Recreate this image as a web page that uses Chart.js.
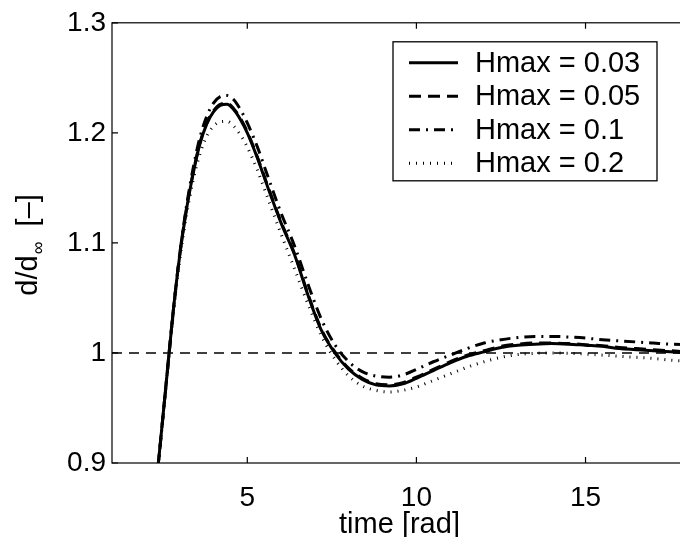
<!DOCTYPE html>
<html>
<head>
<meta charset="utf-8">
<script src="https://cdn.jsdelivr.net/npm/chart.js@4.4.1/dist/chart.umd.min.js"></script>
<style>
  html, body { margin: 0; padding: 0; background: #fff; overflow: hidden; }
  #wrap { width: 692px; height: 550px; }
</style>
</head>
<body>
<div id="wrap"><canvas id="chart" width="692" height="550"></canvas></div>
<script>
// time axis shared by all runs
const time = [2.2, 2.4, 2.6, 2.8, 3.0, 3.2, 3.4, 3.6, 3.8, 4.0, 4.2, 4.4, 4.6, 4.8, 5.0, 5.3, 5.6, 6.0, 6.4, 6.8,
  7.2, 7.6, 8.0, 8.4, 8.8, 9.2, 9.6, 10.0, 10.5, 11.0, 11.5, 12.0, 12.5, 13.0, 13.5, 14.0, 14.5, 15.0,
  15.5, 16.0, 16.5, 17.0, 17.5, 18.0];

const hmax003 = [0.846, 0.909, 0.972, 1.035, 1.088, 1.130, 1.163, 1.190, 1.208, 1.219, 1.225, 1.226, 1.221, 1.212,
  1.200, 1.177, 1.151, 1.118, 1.089, 1.052, 1.020, 0.9995, 0.985, 0.976, 0.971, 0.970, 0.972, 0.977, 0.984,
  0.991, 0.997, 1.001, 1.005, 1.007, 1.008, 1.0085, 1.008, 1.007, 1.006, 1.004, 1.003, 1.002, 1.001, 1.000];

const hmax005 = [0.846, 0.909, 0.972, 1.035, 1.089, 1.131, 1.164, 1.191, 1.209, 1.220, 1.226, 1.227, 1.222, 1.213,
  1.201, 1.178, 1.152, 1.119, 1.090, 1.053, 1.021, 1.0005, 0.986, 0.977, 0.972, 0.971, 0.973, 0.978, 0.985,
  0.992, 0.998, 1.002, 1.006, 1.008, 1.009, 1.009, 1.0085, 1.0075, 1.0065, 1.005, 1.004, 1.003, 1.002, 1.001];

const hmax01 = [0.845, 0.908, 0.971, 1.034, 1.089, 1.133, 1.168, 1.196, 1.215, 1.227, 1.233, 1.234, 1.230, 1.221,
  1.209, 1.187, 1.161, 1.127, 1.097, 1.062, 1.030, 1.007, 0.992, 0.983, 0.979, 0.978, 0.980, 0.985, 0.992,
  0.998, 1.004, 1.009, 1.012, 1.014, 1.015, 1.015, 1.0145, 1.0135, 1.012, 1.011, 1.010, 1.009, 1.008, 1.0075];

const hmax02 = [0.846, 0.909, 0.971, 1.032, 1.084, 1.125, 1.157, 1.181, 1.197, 1.206, 1.210, 1.2105, 1.206, 1.198,
  1.187, 1.166, 1.141, 1.108, 1.076, 1.044, 1.015, 0.994, 0.979, 0.970, 0.966, 0.9645, 0.966, 0.969, 0.975,
  0.981, 0.987, 0.992, 0.996, 0.9985, 0.9997, 1.000, 0.9997, 0.999, 0.998, 0.997, 0.996, 0.995, 0.9935, 0.9925];

// steady state reference
const refTime = [1, 18];
const refValue = [1, 1];

const labels = ['Hmax = 0.03', 'Hmax = 0.05', 'Hmax = 0.1', 'Hmax = 0.2'];
const xTicks = [5, 10, 15];
const yTicks = [0.9, 1.0, 1.1, 1.2, 1.3];

const FONT = "'Liberation Sans', Arial, Helvetica, sans-serif";

function pts(xs, ys) {
  return xs.map((x, i) => ({x: x, y: ys[i]}));
}

function series(label, ys, width, dash) {
  return {
    label: label,
    data: pts(time, ys),
    borderColor: '#000',
    borderWidth: width,
    borderDash: dash,
    borderCapStyle: 'butt',
    pointRadius: 0,
    cubicInterpolationMode: 'monotone',
    clip: 0,
    fill: false
  };
}

const datasets = [
  series(labels[0], hmax003, 3, []),
  series(labels[1], hmax005, 3, [12, 7]),
  series(labels[2], hmax01, 3, [11, 6, 2, 6]),
  series(labels[3], hmax02, 3, [1, 6]),
  {
    label: 'ref',
    data: pts(refTime, refValue),
    borderColor: '#000',
    borderWidth: 1.5,
    borderDash: [10, 7],
    pointRadius: 0,
    clip: 0
  }
];

// box, inward ticks, legend and the y label with its subscript
const decorations = {
  id: 'decorations',
  afterDatasetsDraw(chart) {
    const ctx = chart.ctx;
    const a = chart.chartArea;
    const xs = chart.scales.x, ys = chart.scales.y;
    ctx.save();
    ctx.strokeStyle = '#000';
    ctx.lineWidth = 1.2;
    ctx.setLineDash([]);
    ctx.strokeRect(a.left, a.top, a.right - a.left, a.bottom - a.top);
    ctx.beginPath();
    xTicks.forEach(v => {
      const p = xs.getPixelForValue(v);
      ctx.moveTo(p, a.bottom); ctx.lineTo(p, a.bottom - 6);
      ctx.moveTo(p, a.top); ctx.lineTo(p, a.top + 6);
    });
    yTicks.forEach(v => {
      const p = ys.getPixelForValue(v);
      ctx.moveTo(a.left, p); ctx.lineTo(a.left + 6, p);
      ctx.moveTo(a.right, p); ctx.lineTo(a.right - 6, p);
    });
    ctx.stroke();

    // legend
    const bx = a.right - 294, by = a.top + 19, bw = 264, bh = 139;
    ctx.fillStyle = '#fff';
    ctx.fillRect(bx, by, bw, bh);
    ctx.lineWidth = 1.3;
    ctx.strokeRect(bx, by, bw, bh);
    ctx.font = '29px ' + FONT;
    ctx.textBaseline = 'middle';
    ctx.fillStyle = '#000';
    for (let i = 0; i < 4; i++) {
      const ds = chart.data.datasets[i];
      const ry = by + 21 + i * 33.5;
      ctx.beginPath();
      ctx.lineWidth = ds.borderWidth;
      ctx.lineCap = 'butt';
      ctx.setLineDash(ds.borderDash);
      ctx.moveTo(bx + 16, ry);
      ctx.lineTo(bx + 65, ry);
      ctx.stroke();
      ctx.setLineDash([]);
      ctx.fillText(ds.label, bx + 82, ry + 1);
    }

    // y axis label d/d∞ [–]
    const big = '29px ' + FONT, small = '18px ' + FONT;
    ctx.font = big;
    const w1 = ctx.measureText('d/d').width;
    const w3 = ctx.measureText('  [\u2013]').width;
    ctx.font = small;
    const w2 = ctx.measureText('\u221e').width;
    const total = w1 + w2 + w3;
    const cy = (a.top + a.bottom) / 2 + 2;
    ctx.translate(37, cy);
    ctx.rotate(-Math.PI / 2);
    ctx.textBaseline = 'alphabetic';
    ctx.textAlign = 'left';
    let x0 = -total / 2;
    ctx.font = big;
    ctx.fillText('d/d', x0, 0);
    ctx.font = small;
    ctx.fillText('\u221e', x0 + w1 + 1, 7);
    ctx.font = big;
    ctx.fillText('  [\u2013]', x0 + w1 + w2, 0);
    ctx.restore();
  }
};

const chart = new Chart(document.getElementById('chart'), {
  type: 'line',
  data: { datasets: datasets },
  options: {
    responsive: false,
    animation: false,
    devicePixelRatio: 1,
    layout: { padding: { top: 20, right: 5, left: 0, bottom: 0 } },
    plugins: {
      legend: { display: false },
      tooltip: { enabled: false }
    },
    scales: {
      x: {
        type: 'linear',
        min: 1,
        max: 18,
        grid: { display: false, drawTicks: false },
        border: { display: false },
        afterBuildTicks: s => { s.ticks = xTicks.map(v => ({value: v})); },
        afterFit: s => { s.height = 87; },
        ticks: {
          color: '#000',
          padding: 18,
          maxRotation: 0,
          font: { family: FONT, size: 28 }
        },
        title: {
          display: true,
          text: 'time [rad]',
          color: '#000',
          padding: { top: 0, bottom: 8 },
          font: { family: FONT, size: 29 }
        }
      },
      y: {
        type: 'linear',
        min: 0.9,
        max: 1.3,
        grid: { display: false, drawTicks: false },
        border: { display: false },
        afterBuildTicks: s => { s.ticks = yTicks.map(v => ({value: v})); },
        afterFit: s => { s.width = 112; },
        ticks: {
          color: '#000',
          padding: 6,
          font: { family: FONT, size: 28 },
          callback: v => String(+v.toFixed(1))
        }
      }
    }
  },
  plugins: [decorations]
});
</script>
</body>
</html>
